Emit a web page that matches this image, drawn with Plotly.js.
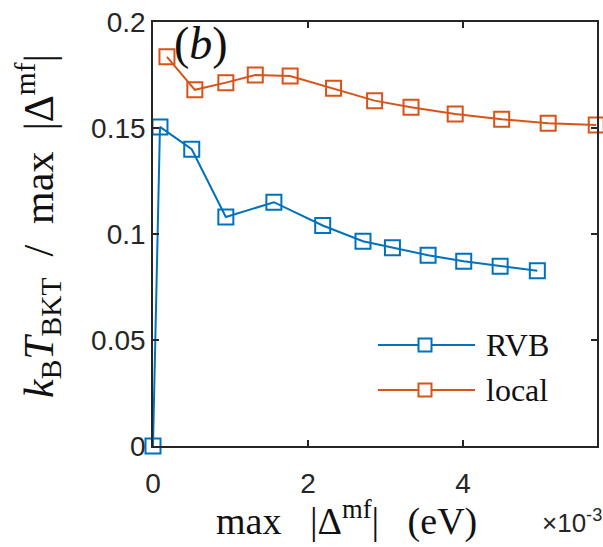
<!DOCTYPE html>
<html>
<head>
<meta charset="utf-8">
<script src="https://cdn.plot.ly/plotly-3.0.1.min.js"></script>
<style>html,body{margin:0;padding:0;background:#fff;}#plot{width:603px;height:547px;}</style>
</head>
<body>
<div id="plot"></div>
<script>
// Data (x in units of 1e-3 eV)
const rvbX = [0.0, 0.09, 0.50, 0.94, 1.56, 2.19, 2.71, 3.09, 3.55, 4.01, 4.48, 4.96];
const rvbY = [0.0, 0.1505, 0.140, 0.108, 0.115, 0.104, 0.0966, 0.0935, 0.0900, 0.0871, 0.0848, 0.0827];
const localX = [0.18, 0.54, 0.94, 1.32, 1.77, 2.33, 2.86, 3.33, 3.90, 4.50, 5.10, 5.72];
const localY = [0.1836, 0.168, 0.1714, 0.175, 0.1745, 0.1687, 0.1629, 0.1598, 0.1566, 0.1541, 0.1522, 0.1514];
const xTicks = [0, 2, 4];
const yTicks = [0, 0.05, 0.1, 0.15, 0.2];
const yTickText = ['0', '0.05', '0.1', '0.15', '0.2'];
const seriesNames = ['RVB', 'local'];

const blue = '#0072BD', orange = '#D95319', axisCol = '#262626';
const colors = [blue, orange];
const serif = 'Liberation Serif, DejaVu Serif, serif';
const sans = 'Liberation Sans, Arial, sans-serif';

const mk = (c) => ({symbol: 'square-open', size: 15, color: c, line: {width: 2, color: c}});
const traces = [
  {x: rvbX, y: rvbY, name: seriesNames[0], mode: 'lines+markers', line: {color: blue, width: 2}, marker: mk(blue), cliponaxis: false, showlegend: false},
  {x: localX, y: localY, name: seriesNames[1], mode: 'lines+markers', line: {color: orange, width: 2}, marker: mk(orange), cliponaxis: false, showlegend: false}
];

const axBase = {
  showgrid: false, zeroline: false, showline: true, mirror: 'ticks',
  linecolor: axisCol, linewidth: 1.8, ticks: 'inside', ticklen: 6, tickcolor: axisCol, tickwidth: 1.8,
  tickfont: {family: sans, size: 28, color: axisCol}
};

// plot area geometry (for the hand-drawn legend, in paper units)
const L = 153, R = 597, T = 22, B = 446, W = 603, H = 547;
const px = (p) => (p - L) / (R - L);
const py = (p) => (B - p) / (B - T);

const legendRows = [345, 390];
const shapes = [], annotations = [];
seriesNames.forEach((name, i) => {
  const yy = py(legendRows[i]);
  shapes.push({type: 'line', xref: 'paper', yref: 'paper', x0: px(378), x1: px(475), y0: yy, y1: yy,
               line: {color: colors[i], width: 2}});
  shapes.push({type: 'rect', xref: 'paper', yref: 'paper', x0: px(425 - 6.5), x1: px(425 + 6.5),
               y0: yy - 6.5 / (B - T), y1: yy + 6.5 / (B - T), fillcolor: '#fff', line: {color: colors[i], width: 2}});
  annotations.push({text: name, xref: 'paper', yref: 'paper', x: px(484), y: yy, xanchor: 'left', yanchor: 'middle',
                    showarrow: false, font: {family: serif, size: 32, color: '#111'}});
});

annotations.push(
  {text: '(<i>b</i>)', xref: 'paper', yref: 'paper', x: px(172), y: py(16), xanchor: 'left', yanchor: 'top', showarrow: false,
   font: {family: serif, size: 46, color: '#111'}},
  {text: 'max   |Δ<sup>mf</sup>|   (eV)', xref: 'paper', yref: 'paper', x: px(346), y: py(518), xanchor: 'center', yanchor: 'middle', showarrow: false,
   font: {family: serif, size: 38, color: '#111'}},
  {text: '×10<sup>-3</sup>', xref: 'paper', yref: 'paper', x: px(604), y: py(521), xanchor: 'right', yanchor: 'middle', showarrow: false,
   font: {family: sans, size: 26, color: axisCol}},
  {text: '<i>k</i><sub>B</sub><i>T</i><sub>BKT</sub>  /  max  |Δ<sup>mf</sup>|', xref: 'paper', yref: 'paper', x: px(38), y: py(226),
   xanchor: 'center', yanchor: 'middle', textangle: -90, showarrow: false,
   font: {family: serif, size: 42, color: '#111'}}
);

const layout = {
  width: W, height: H,
  margin: {l: L, r: W - R, t: T, b: H - B},
  paper_bgcolor: '#fff', plot_bgcolor: '#fff',
  showlegend: false,
  xaxis: Object.assign({}, axBase, {range: [0, 5.73], tickvals: xTicks, ticktext: xTicks.map(String), ticklabelstandoff: 12}),
  yaxis: Object.assign({}, axBase, {range: [0, 0.2], tickvals: yTicks, ticktext: yTickText}),
  shapes: shapes,
  annotations: annotations
};

Plotly.newPlot('plot', traces, layout, {displayModeBar: false, staticPlot: true});
</script>
</body>
</html>
